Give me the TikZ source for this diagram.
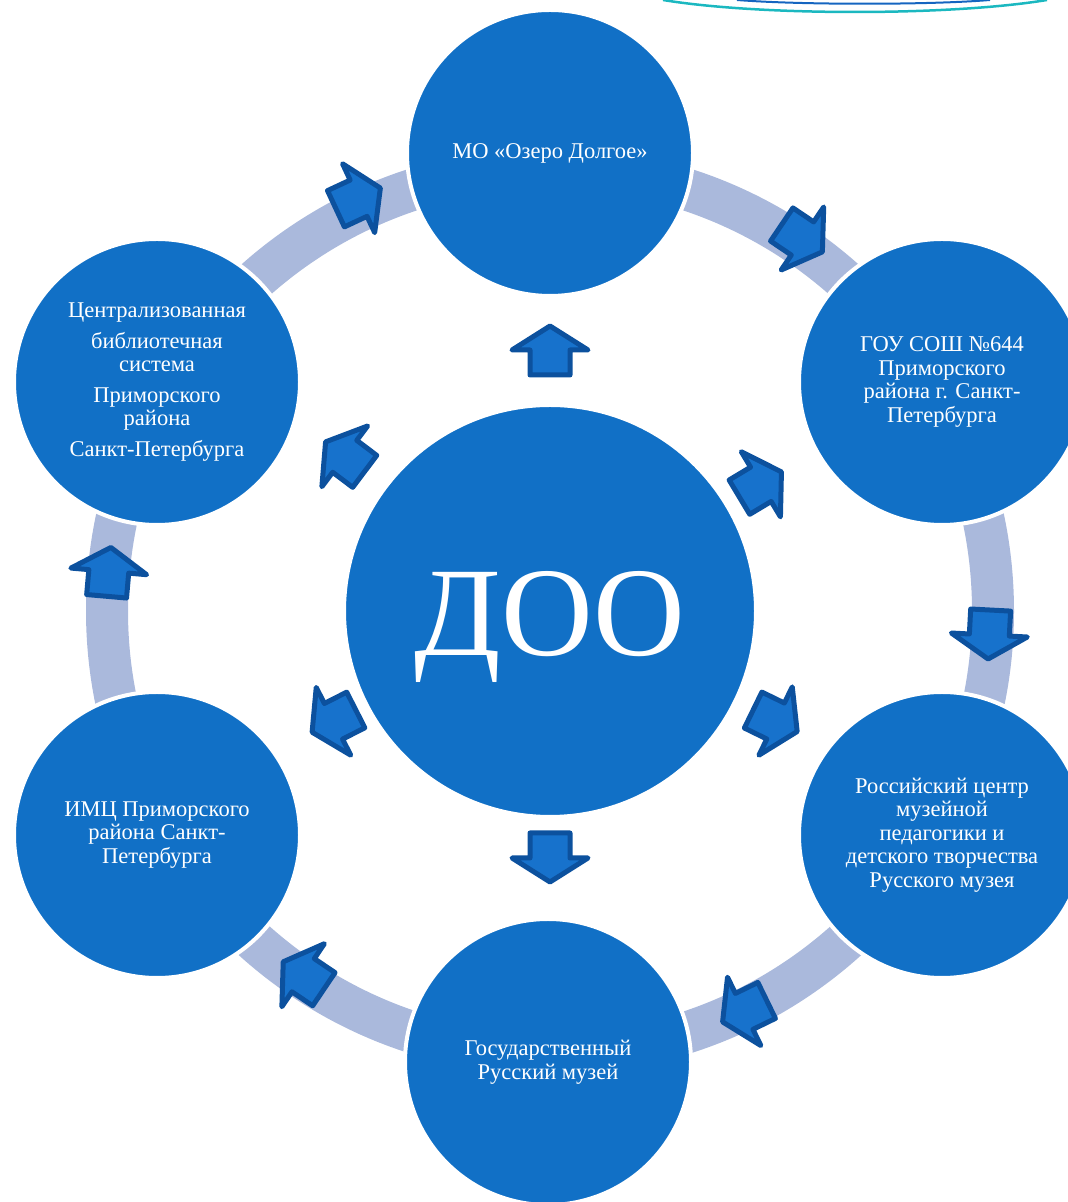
\documentclass[tikz,border=0pt]{standalone}
\usepackage{fontspec}
\setmainfont{Liberation Serif}
\usepackage{tikz}
\usepackage{xcolor}
\usetikzlibrary{shapes}
\usetikzlibrary{calc}
\usetikzlibrary{positioning}
\definecolor{disc}{rgb}{0.067,0.439,0.776}
\definecolor{ringgray}{rgb}{0.667,0.725,0.863}
\definecolor{arrowfill}{rgb}{0.090,0.447,0.800}
\definecolor{arrowedge}{rgb}{0.047,0.318,0.620}
\definecolor{wave}{rgb}{0.106,0.722,0.753}
\definecolor{waveblue}{rgb}{0.082,0.396,0.753}

\tikzset{
  partner/.style={circle, fill=disc, draw=white, line width=4pt, minimum size=286pt,
    inner sep=0pt, text=white, align=center, font=\fontsize{22.5}{23.5}\selectfont},
  hub/.style={circle, fill=disc, draw=white, line width=4pt, minimum size=412pt,
    inner sep=0pt},
  hubtext/.style={text=white, inner sep=0pt, font=\fontsize{127}{127}\selectfont},
  blockarrow/.pic={
    \filldraw[fill=arrowfill, draw=arrowedge, line width=5pt, line join=round]
      (-24,-20) -- (1,-20) -- (1,-38) -- (25,0) -- (1,38) -- (1,20) -- (-24,20) -- cycle;
  }
}

\begin{document}
\begin{tikzpicture}[x=1pt, y=1pt]
  \useasboundingbox (0,0) rectangle (1068,1202);
  \clip (0,0) rectangle (1068,1202);

  % lines at the top edge
  \draw[wave, line width=2.5pt] (663,1202) .. controls (760,1186) and (950,1186) .. (1047,1202);
  \draw[waveblue, line width=2pt] (737,1202) .. controls (800,1197) and (930,1197) .. (990,1202);

  % ring
  \coordinate (c) at (550,591);
  \draw[ringgray, line width=42pt] (c) circle (443);

  \node[hub] (doo) at (550,591) {};
  \node[hubtext] (doolabel) at ([yshift=-16pt]doo.center) {ДОО};
  \node[partner] (mo)     at (550,1049) {МО «Озеро Долгое»};
  \node[partner] (school) at (942,820) {ГОУ СОШ №644\\Приморского\\района г. Санкт-\\Петербурга};
  \node[partner] (centre) at (942,367) {Российский центр\\музейной\\педагогики и\\детского творчества\\Русского музея};
  \node[partner] (museum) at (548,140) {Государственный\\Русский музей};
  \node[partner] (imc)    at (157,367) {ИМЦ Приморского\\района Санкт-\\Петербурга};
  \node[partner] (lib)    at (157,820) {Централизованная\\[7pt]библиотечная\\система\\[7pt]Приморского\\района\\[7pt]Санкт-Петербурга};

  % arrows along the ring
  \foreach \a/\d/\r in {115/25/455, 56/-34/450, -3/-93/440, -64/-154/445, -124/146/440, 175/85/443}
    \path (c) ++(\a:\r) pic[rotate=\d] {blockarrow};

  % arrows from the centre
  \foreach \a/\r in {90/260, 31/245, -26/250, -90/246, -153/242, 143/256}
    \path (doo.center) ++(\a:\r) pic[rotate=\a] {blockarrow};
\end{tikzpicture}
\end{document}
